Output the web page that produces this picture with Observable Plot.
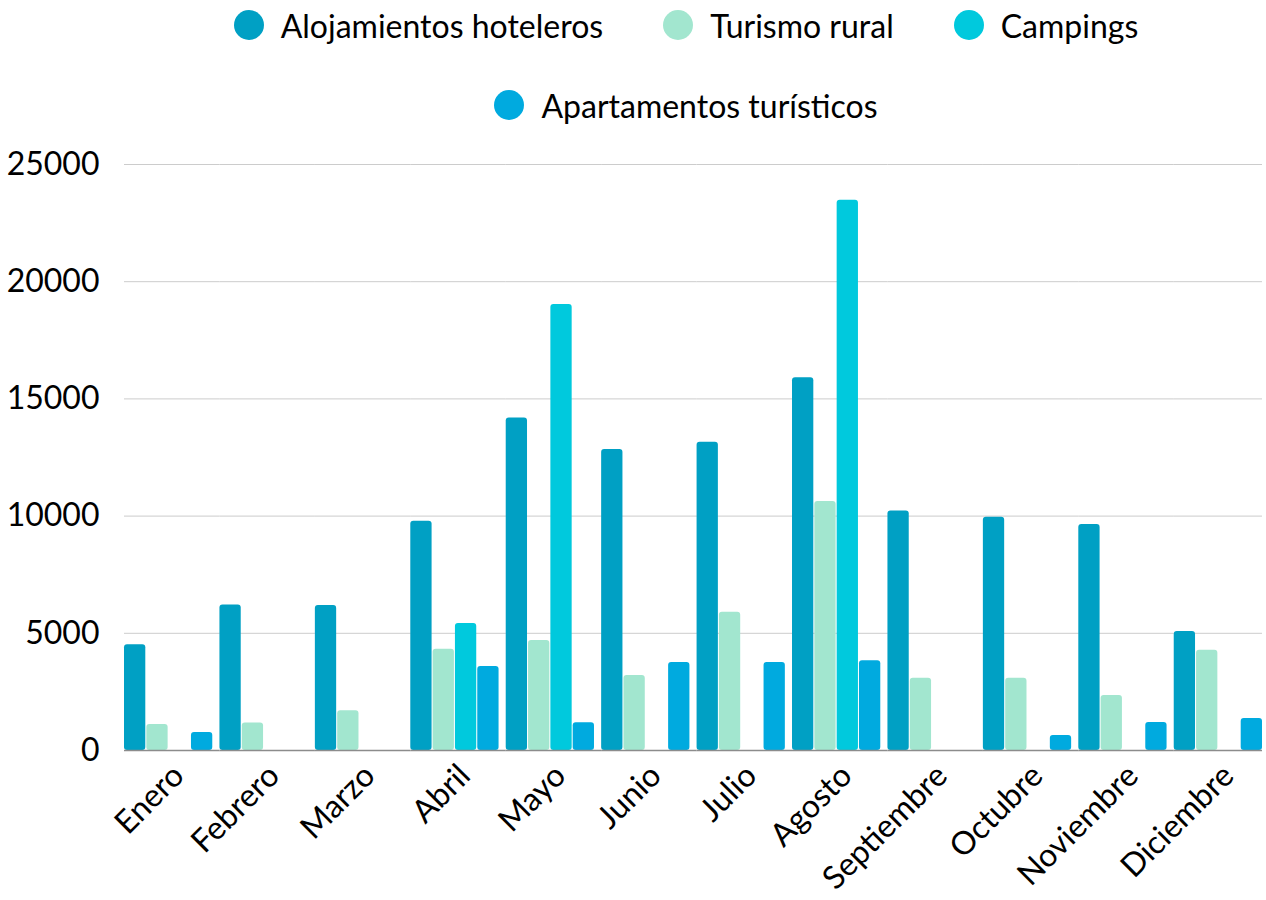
<!DOCTYPE html>
<html><head><meta charset="utf-8">
<script src="https://cdn.jsdelivr.net/npm/d3@7"></script>
<script src="https://cdn.jsdelivr.net/npm/@observablehq/plot@0.6"></script>
<style>
body{margin:0;background:#fff;font-family:Lato,sans-serif;width:1266px;height:900px;overflow:hidden;}
#legend{position:relative;height:140px;}
#legend .wrap{position:absolute;left:186px;width:1000px;top:0;display:flex;flex-wrap:wrap;justify-content:center;column-gap:60px;row-gap:30px;}
#legend .item{display:flex;align-items:center;height:50px;font-size:32px;color:#000;white-space:nowrap;}
#legend .dot{width:30px;height:30px;border-radius:50%;margin-right:17px;flex:none;}
</style></head><body>
<div id="legend"><div class="wrap"></div></div>
<div id="chart"></div>
<script>
const months = ["Enero","Febrero","Marzo","Abril","Mayo","Junio","Julio","Agosto","Septiembre","Octubre","Noviembre","Diciembre"];
const series = ["Alojamientos hoteleros","Turismo rural","Campings","Apartamentos turísticos"];
const colors = ["#00a0c4","#a2e6cf","#00c9dd","#00aadf"];
const alojamientos = [4510,6210,6190,9780,14180,12840,13150,15900,10220,9950,9640,5080];
const rural = [1110,1170,1700,4320,4690,3200,5900,10620,3080,3080,2350,4280];
const campings = [null,null,null,5420,19030,null,null,23480,null,null,null,null];
const apartamentos = [770,null,null,3580,1180,3750,3750,3830,null,640,1190,1370];
const yTicks = [0,5000,10000,15000,20000,25000];

const cols = [alojamientos, rural, campings, apartamentos];
const data = [];
months.forEach((m,i)=>series.forEach((s,j)=>{ const v=cols[j][i]; if(v!=null) data.push({month:m, series:s, value:v}); }));

// grid rows per facet (so lines run continuously across facet gaps)
const gridInner = [], gridLast = [], baseInner = [], baseLast = [];
months.forEach((m,i)=>{
  yTicks.slice(1).forEach(t=> (i<months.length-1?gridInner:gridLast).push({month:m, v:t}));
  (i<months.length-1?baseInner:baseLast).push({month:m, v:0});
});

const leg = document.querySelector("#legend .wrap");
series.forEach((s,j)=>{
  const it=document.createElement("div"); it.className="item";
  const d=document.createElement("span"); d.className="dot"; d.style.background=colors[j];
  it.appendChild(d); it.appendChild(document.createTextNode(s)); leg.appendChild(it);
});

const chart = Plot.plot({
  width:1266, height:760,
  marginTop:24, marginBottom:150, marginLeft:124, marginRight:4,
  style:{fontFamily:"Lato, sans-serif", fontSize:"32px", color:"#000", background:"#fff"},
  fx:{domain:months, paddingInner:0.075, paddingOuter:0, round:false, label:null},
  x:{domain:series, axis:null, paddingInner:0.046, paddingOuter:0, round:false},
  y:{domain:[0,25000], ticks:yTicks, label:null},
  color:{domain:series, range:colors},
  marks:[
    Plot.ruleY(gridInner, {fx:"month", y:"v", stroke:"#cccccc", strokeWidth:1, insetRight:-7.2}),
    Plot.ruleY(gridLast, {fx:"month", y:"v", stroke:"#cccccc", strokeWidth:1}),
    Plot.axisY(yTicks, {tickSize:0, tickPadding:25, label:null, tickFormat:d=>String(d), fontSize:32}),
    Plot.axisFx({anchor:"bottom", tickRotate:-45, tickSize:0, tickPadding:20, dx:10, label:null, fontSize:32}),
    Plot.barY(data, {fx:"month", x:"series", y:"value", fill:"series", rx:3}),
    Plot.ruleY(baseInner, {fx:"month", y:"v", stroke:"#8c8c8c", strokeWidth:1.5, insetRight:-7.2}),
    Plot.ruleY(baseLast, {fx:"month", y:"v", stroke:"#8c8c8c", strokeWidth:1.5})
  ]
});
document.getElementById("chart").appendChild(chart);
</script>
</body></html>
